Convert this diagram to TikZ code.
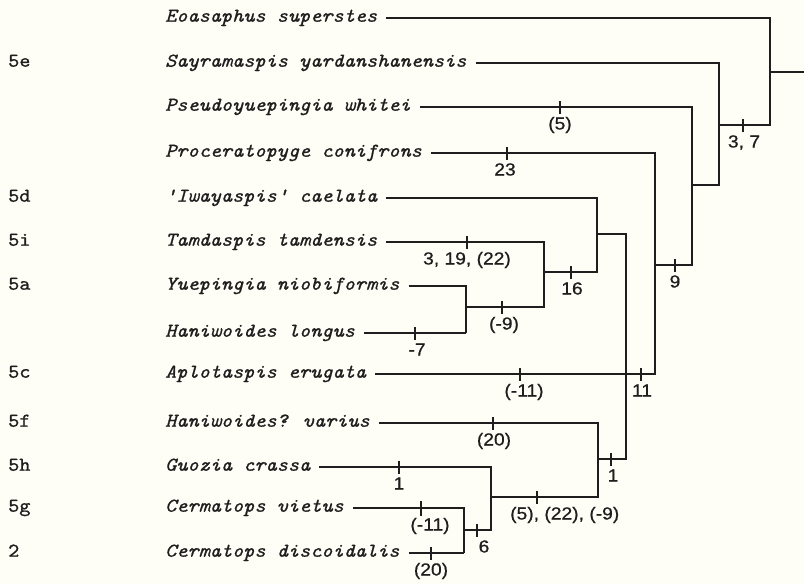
\documentclass[tikz,border=0pt]{standalone}
\usepackage{fontspec}
\newfontfamily\numfont{Liberation Sans}[FakeBold=0.6]
\newfontfamily\taxfont{lmmono10-italic.otf}[FakeBold=0.9]
\newfontfamily\reffont{lmmono10-regular.otf}[FakeBold=0.9]
\definecolor{bg}{RGB}{254,254,247}
\definecolor{ink}{RGB}{30,30,30}
\newcommand\taxon[1]{\scalebox{1.09}[1]{\fontsize{19.5}{20}\selectfont\taxfont #1}}
\newcommand\figref[1]{\scalebox{1.09}[1]{\fontsize{19.5}{20}\selectfont\reffont #1}}
\newcommand\chr[1]{\scalebox{1.1}[1]{\fontsize{17.5}{18}\selectfont\numfont #1}}
\begin{document}
\begin{tikzpicture}[x=1pt,y=-1pt,
  tax/.style={anchor=base west, inner sep=0pt, text=ink},
  fref/.style={anchor=base west, inner sep=0pt, text=ink},
  lab/.style={anchor=base, inner sep=0pt, text=ink},
  labw/.style={anchor=base west, inner sep=0pt, text=ink},
  br/.style={draw=ink, line width=1.2pt},
  tk/.style={draw=ink, line width=2pt}]

\fill[bg] (0,0) rectangle (804,584);
\useasboundingbox (0,0) rectangle (804,584);

% taxa
\node[tax] (t1)  at (165,21.7)  {\taxon{Eoasaphus superstes}};
\node[tax] (t2)  at (165,66.7)  {\taxon{Sayramaspis yardanshanensis}};
\node[tax] (t3)  at (165,110.7) {\taxon{Pseudoyuepingia whitei}};
\node[tax] (t4)  at (165,156.7) {\taxon{Proceratopyge conifrons}};
\node[tax] (t5)  at (165,201.7) {\taxon{\textquotesingle Iwayaspis\textquotesingle\ caelata}};
\node[tax] (t6)  at (165,245.7) {\taxon{Tamdaspis tamdensis}};
\node[tax] (t7)  at (165,289.7) {\taxon{Yuepingia niobiformis}};
\node[tax] (t8)  at (165,336.7) {\taxon{Haniwoides longus}};
\node[tax] (t9)  at (165,377.7) {\taxon{Aplotaspis erugata}};
\node[tax] (t10) at (165,426.7) {\taxon{Haniwoides? varius}};
\node[tax] (t11) at (165,470.7) {\taxon{Guozia crassa}};
\node[tax] (t12) at (165,511.7) {\taxon{Cermatops vietus}};
\node[tax] (t13) at (165,556.7) {\taxon{Cermatops discoidalis}};

% figure references
\node[fref] (f2)  at (8,66.7)  {\figref{5e}};
\node[fref] (f5)  at (8,201.7) {\figref{5d}};
\node[fref] (f6)  at (8,245.7) {\figref{5i}};
\node[fref] (f7)  at (8,289.7) {\figref{5a}};
\node[fref] (f9)  at (8,377.7) {\figref{5c}};
\node[fref] (f10) at (8,426.7) {\figref{5f}};
\node[fref] (f11) at (8,470.7) {\figref{5h}};
\node[fref] (f12) at (8,511.7) {\figref{5g}};
\node[fref] (f13) at (8,556.7) {\figref{2}};

% line starts
\foreach \i in {1,...,13} {\coordinate (s\i) at ([shift={(9,-3.7)}]t\i.base east);}

% internal nodes
\coordinate (Rtop) at (770,18);
\coordinate (Rm)   at (770,72);
\coordinate (root) at (804,72);
\coordinate (R)    at (770,125);
\coordinate (A)    at (719,125);
\coordinate (A2)   at (719,185);
\coordinate (B)    at (692,185);
\coordinate (B2)   at (692,265);
\coordinate (C)    at (655,265);
\coordinate (C2)   at (655,374);
\coordinate (D)    at (626,374);
\coordinate (Dtop) at (626,234);
\coordinate (Dbot) at (626,459);
\coordinate (E)    at (597,234);
\coordinate (E2)   at (597,272);
\coordinate (F)    at (544,272);
\coordinate (F2)   at (544,307);
\coordinate (G)    at (466,307);
\coordinate (G2)   at (466,333);
\coordinate (H)    at (598,459);
\coordinate (H2)   at (598,497);
\coordinate (I)    at (491,497);
\coordinate (I2)   at (491,530);
\coordinate (J)    at (464,530);
\coordinate (J2)   at (464,553);

% branches
\draw[br] (s1) -| (R) -- (A);
\draw[br] (Rm) -- (root);
\draw[br] (s2) -| (A2) -- (B);
\draw[br] (s3) -| (B2) -- (C);
\draw[br] (s4) -| (C2) -- (D);
\draw[br] (s9) -- (D);
\draw[br] (E) -- (Dtop) -- (Dbot) -- (H);
\draw[br] (s5) -| (E2) -- (F);
\draw[br] (s6) -| (F2) -- (G);
\draw[br] (s7) -| (G2);
\draw[br] (s8) -- (G2);
\draw[br] (s10) -| (H2) -- (I);
\draw[br] (s11) -| (I2) -- (J);
\draw[br] (s12) -| (J2);
\draw[br] (s13) -- (J2);

% character ticks and labels
\draw[tk] (743,119) -- (743,132); \node[lab] (c1) at (744,147.5) {\chr{3, 7}};
\draw[tk] (560,101) -- (560,114); \node[lab] (c2) at (560,129.5) {\chr{(5)}};
\draw[tk] (507,147) -- (507,160); \node[lab] (c3) at (505,175.5) {\chr{23}};
\draw[tk] (467,236) -- (467,249); \node[lab] (c4) at (467,264.5) {\chr{3, 19, (22)}};
\draw[tk] (571,266) -- (571,279); \node[lab] (c5) at (572,294.5) {\chr{16}};
\draw[tk] (502,301) -- (502,314); \node[lab] (c6) at (504,329.5) {\chr{(-9)}};
\draw[tk] (415,327) -- (415,340); \node[lab] (c7) at (417,355.5) {\chr{-7}};
\draw[tk] (520,368) -- (520,381); \node[lab] (c8) at (524,396.5) {\chr{(-11)}};
\draw[tk] (641,368) -- (641,381); \node[lab] (c9) at (642,396.5) {\chr{11}};
\draw[tk] (675,259) -- (675,272); \node[lab] (c10) at (675,287.5) {\chr{9}};
\draw[tk] (493,417) -- (493,430); \node[lab] (c11) at (494,445.5) {\chr{(20)}};
\draw[tk] (611,453) -- (611,466); \node[lab] (c12) at (613,481.5) {\chr{1}};
\draw[tk] (399,461) -- (399,474); \node[lab] (c13) at (399,489.5) {\chr{1}};
\draw[tk] (537,491) -- (537,504); \node[labw] (c14) at (510,519.5) {\chr{(5), (22), (-9)}};
\draw[tk] (421,501) -- (421,516); \node[lab] (c15) at (430,530.5) {\chr{(-11)}};
\draw[tk] (431,547) -- (431,560); \node[lab] (c16) at (431,575.5) {\chr{(20)}};
\draw[tk] (477,524) -- (477,537); \node[lab] (c17) at (484,552.5) {\chr{6}};
\end{tikzpicture}
\end{document}
